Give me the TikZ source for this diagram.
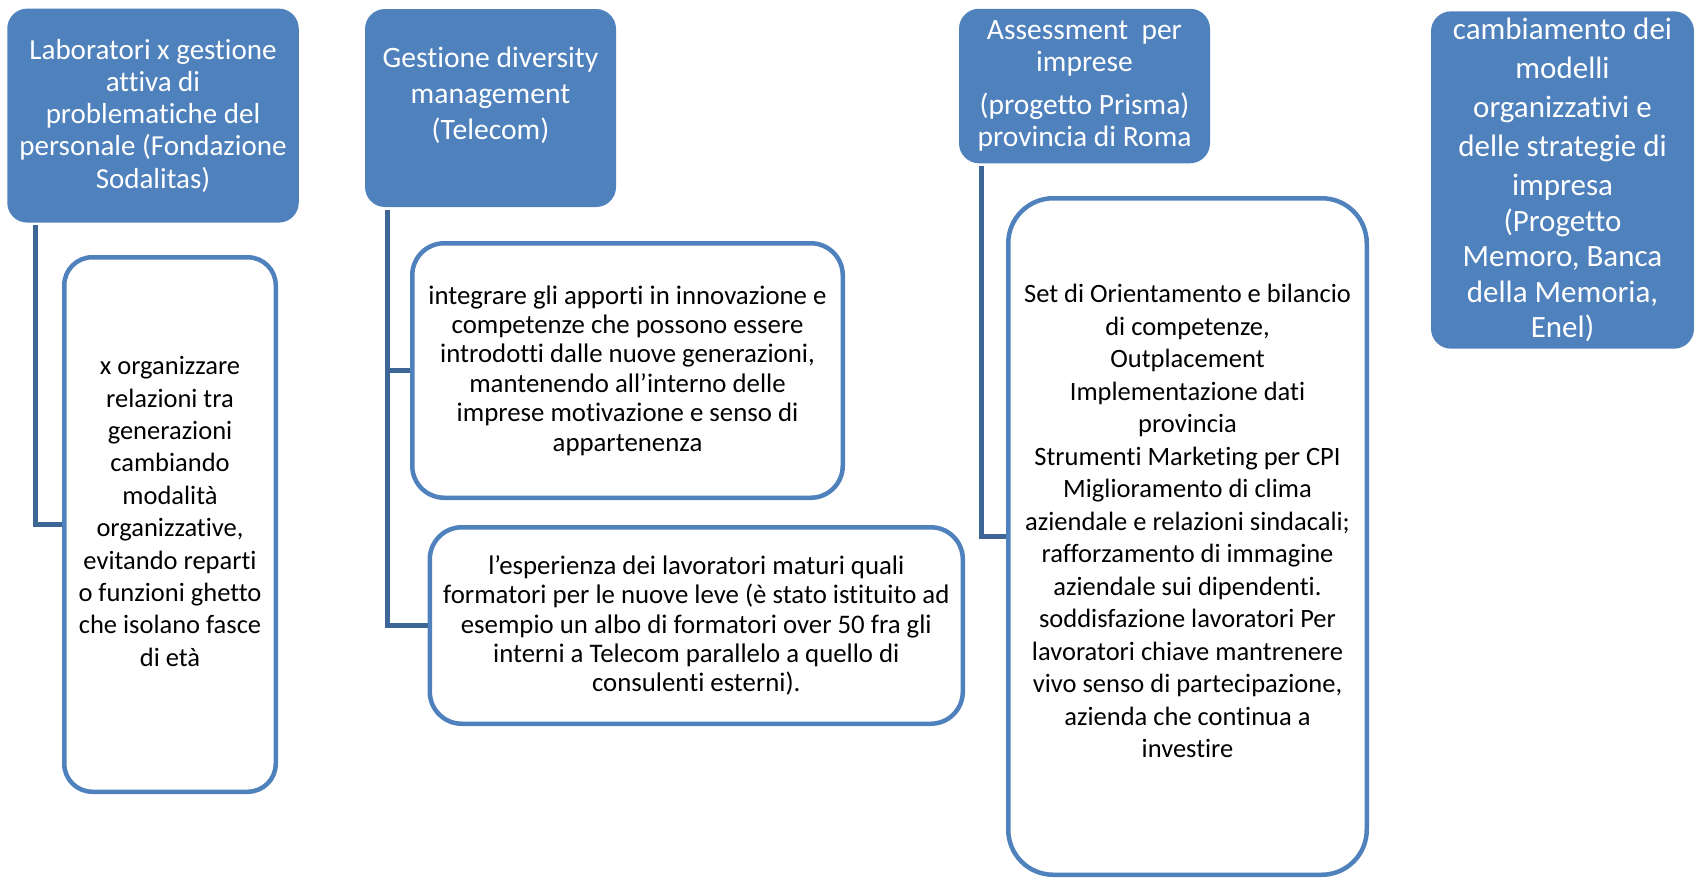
\documentclass[tikz,border=0pt]{standalone}
\usepackage{fontspec}
\setmainfont{Carlito}[Ligatures=NoCommon]
\usetikzlibrary{calc}
\definecolor{accent}{HTML}{4F81BD}
\definecolor{conn}{HTML}{3D6596}
\newcommand{\fsz}[2]{\fontsize{#1}{#2}\selectfont}
\tikzset{
  head/.style={fill=accent, draw=none, rounded corners=20pt, text=white, align=center, inner sep=0pt},
  leaf/.style={draw=accent, line width=4.5pt, fill=white, rounded corners=32pt, align=center, inner sep=0pt, text=black},
  link/.style={draw=conn, line width=5pt},
}
\begin{document}
\begin{tikzpicture}[x=1pt,y=-1pt]
\useasboundingbox (0,0) rectangle (1694,879);

\node[head, font=\fsz{29}{32.2}, minimum width=291.5pt, minimum height=214pt] (b1) at (153,115.6)
  {Laboratori x gestione\\attiva di\\problematiche del\\personale (Fondazione\\Sodalitas)};
\node[head, font=\fsz{29.6}{35.6}, minimum width=251pt, minimum height=198pt] (b2) at (490.5,108)
  {Gestione diversity\\management\\(Telecom)\\[-6pt]\mbox{}};
\node[head, font=\fsz{29.5}{32.2}, minimum width=251pt, minimum height=154.5pt] (b3) at (1084.5,86)
  {Assessment~~per\\imprese\\[11pt](progetto Prisma)\\provincia di Roma};
\node[head, font=\fsz{31}{35.6}, minimum width=263pt, minimum height=337.4pt] (b4) at (1562.5,180)
  {cambiamento dei\\[3.4pt]modelli\\[3.4pt]organizzativi e\\[3.4pt]delle strategie di\\[3.4pt]impresa\\(Progetto\\Memoro, Banca\\della Memoria,\\Enel)};

\node[leaf, font=\fsz{26.5}{32.4}, rounded corners=28pt, minimum width=211.5pt, minimum height=534.5pt] (c1) at (170,524.5)
  {x organizzare\\relazioni tra\\generazioni\\cambiando\\modalità\\organizzative,\\evitando reparti\\o funzioni ghetto\\che isolano fasce\\di età\\[-6pt]\mbox{}};
\node[leaf, font=\fsz{26.8}{29.4}, minimum width=430.5pt, minimum height=254.5pt] (c2a) at (627.5,370.5)
  {integrare gli apporti in innovazione e\\competenze che possono essere\\introdotti dalle nuove generazioni,\\mantenendo all’interno delle\\imprese motivazione e senso di\\appartenenza};
\node[leaf, font=\fsz{26.8}{29.4}, minimum width=533pt, minimum height=196.5pt] (c2b) at (696.3,625.5)
  {l’esperienza dei lavoratori maturi quali\\formatori per le nuove leve (è stato istituito ad\\esempio un albo di formatori over 50 fra gli\\interni a Telecom parallelo a quello di\\consulenti esterni).};
\node[leaf, font=\fsz{26.5}{32.5}, rounded corners=45pt, minimum width=358.5pt, minimum height=676.5pt] (c3) at (1187.5,536.5)
  {Set di Orientamento e bilancio\\di competenze,\\Outplacement\\Implementazione dati\\provincia\\Strumenti Marketing per CPI\\Miglioramento di clima\\aziendale e relazioni sindacali;\\ rafforzamento di immagine\\aziendale sui dipendenti.\\soddisfazione lavoratori Per\\lavoratori chiave mantrenere\\vivo senso di partecipazione,\\azienda che continua a\\investire\\[-2pt]\mbox{}};

\coordinate (s1) at ($(b1.south west)+(28,2.5)$);
\coordinate (s2) at ($(b2.south west)+(23,2.5)$);
\coordinate (s3) at ($(b3.south west)+(23,2.5)$);
\draw[link] (s1) |- (c1.west);
\draw[link] (s2) |- (c2a.west);
\draw[link] (s2) |- (c2b.west);
\draw[link] (s3) |- (c3.west);
\end{tikzpicture}
\end{document}
